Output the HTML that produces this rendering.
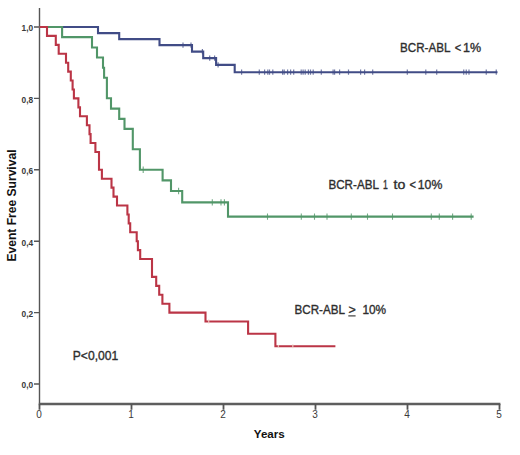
<!DOCTYPE html>
<html><head><meta charset="utf-8"><style>
html,body{margin:0;padding:0;background:#fff;}
body{width:520px;height:455px;overflow:hidden;}
svg{display:block;}
</style></head><body>
<svg width="520" height="455" viewBox="0 0 520 455"><path d="M39.5,8 V404" stroke="#555555" stroke-width="1.4" fill="none"/><path d="M38.8,404 H500.4" stroke="#5e5e5e" stroke-width="2.6" fill="none"/><path d="M34,384.0H39.5M34,312.6H39.5M34,241.2H39.5M34,169.8H39.5M34,98.4H39.5M34,27.0H39.5" stroke="#555555" stroke-width="1.4" fill="none"/><path d="M39.5,404V409.7M131.5,404V409.7M223.5,404V409.7M315.5,404V409.7M407.5,404V409.7M499.5,404V409.7" stroke="#555555" stroke-width="1.8" fill="none"/><path d="M39.5,27 H98 V33.1 H119.2 V39.1 H159.5 V45.1 H192 V51.6 H203.2 V58.1 H216.1 V64.9 H234.7 V72.2 H497.5" stroke="#414c86" stroke-width="2.1" fill="none"/><path d="M183,42.50V47.70M191,42.50V47.70M202.4,49.00V54.20M209.7,55.50V60.70M214.6,55.50V60.70M218.1,62.30V67.50M241.6,69.60V74.80M259.3,69.60V74.80M264.6,69.60V74.80M267.8,69.60V74.80M269.5,69.60V74.80M272.8,69.60V74.80M282.6,69.60V74.80M284.2,69.60V74.80M287.6,69.60V74.80M290.6,69.60V74.80M293.7,69.60V74.80M301.2,69.60V74.80M303.1,69.60V74.80M305.2,69.60V74.80M308.4,69.60V74.80M310.5,69.60V74.80M313.2,69.60V74.80M321.3,69.60V74.80M333.1,69.60V74.80M334.6,69.60V74.80M339.6,69.60V74.80M348.5,69.60V74.80M360.6,69.60V74.80M364.6,69.60V74.80M372.7,69.60V74.80M407.3,69.60V74.80M425.8,69.60V74.80M436.7,69.60V74.80M463.75,69.60V74.80M466.25,69.60V74.80M469,69.60V74.80M486.25,69.60V74.80M496.25,69.60V74.80" stroke="#414c86" stroke-width="1.2" stroke-opacity="0.75" fill="none"/><path d="M39.5,27 H62.1 V37.1 H92 V47.5 H97 V57.5 H103 V67.8 H104.1 V77.8 H106.9 V98.2 H111 V108.6 H119.2 V118.9 H124.5 V128.9 H132.8 V149.3 H139.9 V169.7 H162.6 V180.4 H171 V191 H182.2 V202.4 H228 V216.6 H473.6" stroke="#519668" stroke-width="2.1" fill="none"/><path d="M143.2,166.50V172.90M178.6,187.80V194.20M212.3,199.20V205.60M221,199.20V205.60M224.4,199.20V205.60M267.5,213.40V219.80M301.3,213.40V219.80M314.5,213.40V219.80M327,213.40V219.80M351.3,213.40V219.80M367.5,213.40V219.80M392.5,213.40V219.80M431.3,213.40V219.80M439.3,213.40V219.80M452.6,213.40V219.80M471.2,213.40V219.80" stroke="#519668" stroke-width="1.1" stroke-opacity="0.8" fill="none"/><path d="M39.5,27 H47 V35.92 H55.8 V44.85 H58.7 V53.78 H66 V62.7 H68.2 V71.62 H70.8 V80.55 H72.6 V89.48 H73.9 V98.4 H78.4 V107.33 H80 V116.25 H86.9 V125.18 H89.5 V134.1 H90.6 V143.03 H95.4 V151.95 H99 V169.8 H101.9 V178.73 H111.5 V187.65 H113.5 V196.58 H117 V205.5 H127.4 V214.43 H128.7 V223.35 H130.2 V232.28 H136.7 V241.2 H137.9 V250.13 H140.2 V259.05 H152 V276.9 H156.2 V285.83 H159.2 V294.75 H162.4 V303.68 H169.4 V312.6 H205.5 V321.53 H248.1 V333.8 H275.4 V346.3 H335.4" stroke="#bb3546" stroke-width="2.1" fill="none"/><path d="M208.7,319.5V323.5M292.8,344.3V348.3M278.4,345V348" stroke="#f0d2c8" stroke-width="1.3" stroke-opacity="0.8" fill="none"/><text x="33.2" y="388.4" font-family="Liberation Sans, sans-serif" font-size="9.4" font-weight="bold" fill="#3a3a3a" text-anchor="end" textLength="11.6" lengthAdjust="spacingAndGlyphs">0,0</text><text x="33.2" y="317.0" font-family="Liberation Sans, sans-serif" font-size="9.4" font-weight="bold" fill="#3a3a3a" text-anchor="end" textLength="11.6" lengthAdjust="spacingAndGlyphs">0,2</text><text x="33.2" y="245.6" font-family="Liberation Sans, sans-serif" font-size="9.4" font-weight="bold" fill="#3a3a3a" text-anchor="end" textLength="11.6" lengthAdjust="spacingAndGlyphs">0,4</text><text x="33.2" y="174.2" font-family="Liberation Sans, sans-serif" font-size="9.4" font-weight="bold" fill="#3a3a3a" text-anchor="end" textLength="11.6" lengthAdjust="spacingAndGlyphs">0,6</text><text x="33.2" y="102.8" font-family="Liberation Sans, sans-serif" font-size="9.4" font-weight="bold" fill="#3a3a3a" text-anchor="end" textLength="11.6" lengthAdjust="spacingAndGlyphs">0,8</text><text x="33.2" y="31.4" font-family="Liberation Sans, sans-serif" font-size="9.4" font-weight="bold" fill="#3a3a3a" text-anchor="end" textLength="11.6" lengthAdjust="spacingAndGlyphs">1,0</text><text x="39.1" y="418.3" font-family="Liberation Sans, sans-serif" font-size="10" fill="#3a3a3a" text-anchor="middle">0</text><text x="131.1" y="418.3" font-family="Liberation Sans, sans-serif" font-size="10" fill="#3a3a3a" text-anchor="middle">1</text><text x="223.1" y="418.3" font-family="Liberation Sans, sans-serif" font-size="10" fill="#3a3a3a" text-anchor="middle">2</text><text x="315.1" y="418.3" font-family="Liberation Sans, sans-serif" font-size="10" fill="#3a3a3a" text-anchor="middle">3</text><text x="407.1" y="418.3" font-family="Liberation Sans, sans-serif" font-size="10" fill="#3a3a3a" text-anchor="middle">4</text><text x="499.1" y="418.3" font-family="Liberation Sans, sans-serif" font-size="10" fill="#3a3a3a" text-anchor="middle">5</text><text x="269.3" y="437.6" font-family="Liberation Sans, sans-serif" font-size="11.8" font-weight="bold" fill="#111" text-anchor="middle" textLength="31" lengthAdjust="spacingAndGlyphs">Years</text><text transform="translate(16.0,205.5) rotate(-90)" font-family="Liberation Sans, sans-serif" font-size="12.1" font-weight="bold" fill="#111" text-anchor="middle" textLength="112" lengthAdjust="spacingAndGlyphs">Event Free Survival</text><text x="400.05" y="51.9" font-family="Liberation Sans, sans-serif" font-size="12.3" fill="#2e2e2e" stroke="#2e2e2e" stroke-width="0.35" textLength="50.44" lengthAdjust="spacingAndGlyphs">BCR-ABL</text><text x="454.8" y="51.9" font-family="Liberation Sans, sans-serif" font-size="12.3" fill="#2e2e2e" stroke="#2e2e2e" stroke-width="0.35" textLength="6.47" lengthAdjust="spacingAndGlyphs">&lt;</text><text x="462.98" y="51.9" font-family="Liberation Sans, sans-serif" font-size="12.3" fill="#2e2e2e" stroke="#2e2e2e" stroke-width="0.35" textLength="18.1" lengthAdjust="spacingAndGlyphs">1%</text><text x="328.45" y="188.7" font-family="Liberation Sans, sans-serif" font-size="12.3" fill="#2e2e2e" stroke="#2e2e2e" stroke-width="0.35" textLength="50.44" lengthAdjust="spacingAndGlyphs">BCR-ABL</text><text x="383.1" y="188.7" font-family="Liberation Sans, sans-serif" font-size="12.3" fill="#2e2e2e" stroke="#2e2e2e" stroke-width="0.35" textLength="4.79" lengthAdjust="spacingAndGlyphs">1</text><text x="393.5" y="188.7" font-family="Liberation Sans, sans-serif" font-size="12.3" fill="#2e2e2e" stroke="#2e2e2e" stroke-width="0.35" textLength="11.81" lengthAdjust="spacingAndGlyphs">to</text><text x="409.6" y="188.7" font-family="Liberation Sans, sans-serif" font-size="12.3" fill="#2e2e2e" stroke="#2e2e2e" stroke-width="0.35" textLength="6.47" lengthAdjust="spacingAndGlyphs">&lt;</text><text x="417.8" y="188.7" font-family="Liberation Sans, sans-serif" font-size="12.3" fill="#2e2e2e" stroke="#2e2e2e" stroke-width="0.35" textLength="24.52" lengthAdjust="spacingAndGlyphs">10%</text><text x="294.55" y="313.9" font-family="Liberation Sans, sans-serif" font-size="12.3" fill="#2e2e2e" stroke="#2e2e2e" stroke-width="0.35" textLength="50.44" lengthAdjust="spacingAndGlyphs">BCR-ABL</text><text x="348.5" y="313.9" font-family="Liberation Sans, sans-serif" font-size="12.3" fill="#2e2e2e" stroke="#2e2e2e" stroke-width="0.35" textLength="7.29" lengthAdjust="spacingAndGlyphs">&gt;</text><text x="362.44" y="313.9" font-family="Liberation Sans, sans-serif" font-size="12.3" fill="#2e2e2e" stroke="#2e2e2e" stroke-width="0.35" textLength="23.7" lengthAdjust="spacingAndGlyphs">10%</text><path d="M348.3,315.9H355.6" stroke="#2e2e2e" stroke-width="1.1"/><text x="72.82" y="360.2" font-family="Liberation Sans, sans-serif" font-size="12.3" fill="#2e2e2e" stroke="#2e2e2e" stroke-width="0.35" textLength="45.34" lengthAdjust="spacingAndGlyphs">P&lt;0,001</text></svg>
</body></html>
